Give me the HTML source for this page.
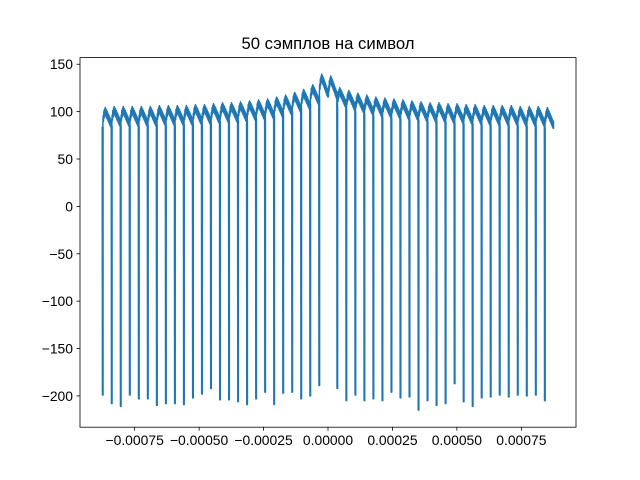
<!DOCTYPE html>
<html><head><meta charset="utf-8"><style>
body{margin:0;background:#fff}
svg{display:block;font-family:"Liberation Sans","DejaVu Sans",sans-serif}
</style></head><body>
<svg id="chart" width="640" height="480" xmlns="http://www.w3.org/2000/svg">
<rect width="640" height="480" fill="#fff"/>
<text x="328" y="49" text-anchor="middle" font-size="16.7" fill="#000">50 сэмплов на символ</text>
<g id="plot"></g>
<rect x="80" y="57.6" width="496" height="369.6" fill="none" stroke="#000" stroke-width="0.8"/>
<g id="xticks"></g>
<g id="yticks"></g>
</svg>
<script>
const xTicks = [-0.00075, -0.0005, -0.00025, 0, 0.00025, 0.0005, 0.00075];
const xTickLabels = ["\u22120.00075","\u22120.00050","\u22120.00025","0.00000","0.00025","0.00050","0.00075"];
const yTicks = [150, 100, 50, 0, -50, -100, -150, -200];
const yTickLabels = ["150","100","50","0","\u221250","\u2212100","\u2212150","\u2212200"];
const period = 0.000035;
const segStartK = [-25,-24,-23,-22,-21,-20,-19,-18,-17,-16,-15,-14,-13,-12,-11,-10,-9,-8,-7,-6,-5,-4,-3,-2,-1,0,1,2,3,4,5,6,7,8,9,10,11,12,13,14,15,16,17,18,19,20,21,22,23,24];
const segPeaks = [101,102,102,102,102,102,103,103,103,103,104,104,105,106,106,107,108,109,110,112,114,117,120,125,137,135,122,119,116,114,112,111,110,109,108,107,106,106,105,105,104,104,103,103,103,103,102,102,102,101];
const segTroughs = [84,85,85,85,85,85,86,86,86,86,87,87,88,89,89,90,91,92,93,95,97,100,103,108,116,114,105,102,99,97,95,94,93,92,91,90,89,89,88,88,87,87,86,86,86,86,85,85,85,83];
const spikeK = [-25,-24,-23,-22,-21,-20,-19,-18,-17,-16,-15,-14,-13,-12,-11,-10,-9,-8,-7,-6,-5,-4,-3,-2,-1,1,2,3,4,5,6,7,8,9,10,11,12,13,14,15,16,17,18,19,20,21,22,23,24];
const spikeMins = [-199,-208,-211,-199,-203,-203,-210,-208,-208,-209,-202,-198,-192,-204,-204,-206,-209,-203,-196,-209,-197,-196,-203,-200,-189,-192,-205,-199,-205,-203,-205,-196,-202,-201,-215,-205,-210,-208,-187,-206,-211,-202,-201,-199,-201,-199,-200,-199,-205];
const endValue = 82;

const X0=80,X1=576,Y0=57.6,Y1=427.2, xmin=-0.000962, xmax=0.000962, ymin=-233, ymax=157;
const sx=v=>X0+(v-xmin)/(xmax-xmin)*(X1-X0);
const sy=v=>Y1-(v-ymin)/(ymax-ymin)*(Y1-Y0);
const NS="http://www.w3.org/2000/svg";
function mk(tag,attrs,parent){const e=document.createElementNS(NS,tag);for(const k in attrs)e.setAttribute(k,attrs[k]);parent.appendChild(e);return e;}

const env=[[0.03,0.15],[0.15,0.7],[0.3,1.0],[0.5,0.75],[0.7,0.45],[0.9,0.15],[0.99,0.05]];
function envAt(f){for(let j=1;j<env.length;j++){if(f<=env[j][0]){const a=env[j-1],b=env[j];return a[1]+(b[1]-a[1])*(f-a[0])/(b[0]-a[0]);}}return env[env.length-1][1];}
const N=26;
let pts=[];
segStartK.forEach((k,i)=>{
  const si=spikeK.indexOf(k);
  const x=sx(k*period);
  if(si>=0){pts.push([x-0.2,sy(segTroughs[i])]);pts.push([x,sy(spikeMins[si])]);pts.push([x+0.6,sy(spikeMins[si])]);pts.push([x+0.6,sy(segTroughs[i])]);}
  const amp=segPeaks[i]-segTroughs[i];
  for(let j=0;j<N;j++){
    const f=0.04+0.95*j/(N-1);
    const w=envAt(f);
    const rip=(j%2?1:-1)*4;
    const v=segTroughs[i]+amp*w*0.85+rip+2;
    pts.push([sx((k+f)*period),sy(v)]);
  }
});
pts.push([sx(25*period),sy(endValue)]);
const plot=document.getElementById('plot');
const line=mk('polyline',{points:pts.map(p=>p[0].toFixed(2)+','+p[1].toFixed(2)).join(' '),fill:'none',stroke:'#1f77b4','stroke-width':1.5,'stroke-linejoin':'round'},plot);



const xg=document.getElementById('xticks');
xTicks.forEach((t,i)=>{
  const x=sx(t);
  const tk=mk('line',{x1:x,x2:x,y1:Y1,y2:Y1+3.5,stroke:'#000','stroke-width':0.8},xg);
  
  
  const tx=mk('text',{x:x,y:Y1+18,'text-anchor':'middle','font-size':13.9,fill:'#000'},xg);
  tx.textContent=xTickLabels[i];
  
  
});
const yg=document.getElementById('yticks');
yTicks.forEach((t,i)=>{
  const y=sy(t);
  const tk=mk('line',{x1:X0-3.5,x2:X0,y1:y,y2:y,stroke:'#000','stroke-width':0.8},yg);
  
  
  const tx=mk('text',{x:X0-7,y:y+5,'text-anchor':'end','font-size':13.9,fill:'#000'},yg);
  tx.textContent=yTickLabels[i];
  
  
});
</script>
</body></html>
